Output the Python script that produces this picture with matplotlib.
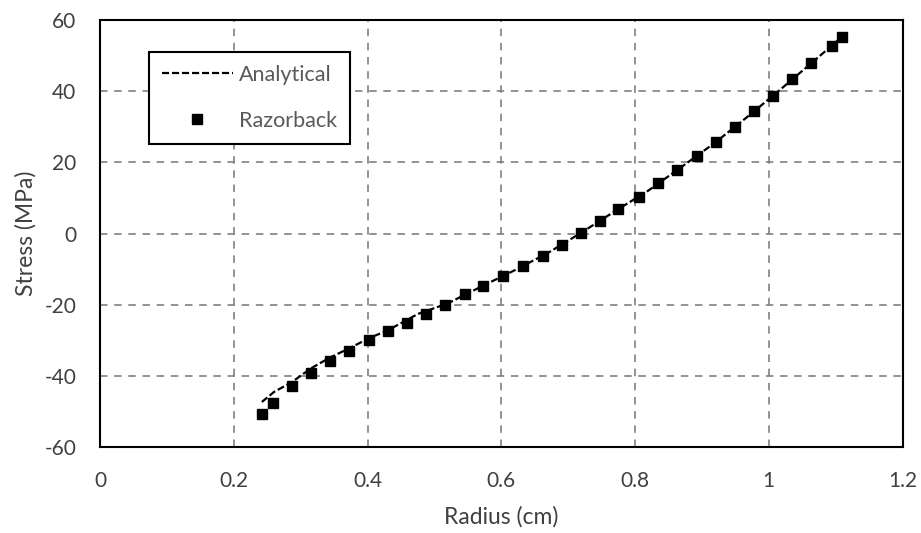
import numpy as np
import matplotlib.pyplot as plt

# Razorback results
radius_pts = [0.242, 0.258, 0.287, 0.315, 0.344, 0.373, 0.402, 0.430, 0.459, 0.488,
              0.516, 0.545, 0.573, 0.602, 0.632, 0.662, 0.691, 0.719, 0.747, 0.775,
              0.806, 0.835, 0.863, 0.892, 0.921, 0.949, 0.978, 1.006, 1.035, 1.063,
              1.095, 1.109]
stress_pts = [-50.7, -47.7, -42.9, -39.2, -35.9, -32.9, -30.0, -27.5, -25.0, -22.5,
              -20.0, -17.1, -14.6, -12.0, -9.2, -6.2, -3.1, 0.2, 3.5, 6.9,
              10.2, 14.2, 17.9, 21.7, 25.7, 30.0, 34.3, 38.6, 43.4, 47.9,
              52.6, 55.2]

# analytical curve
radius_ana = [0.242, 0.26, 0.287, 0.315, 0.344, 0.373, 0.402, 0.43, 0.475, 0.52,
              0.57, 0.62, 0.67, 0.72, 0.77, 0.82, 0.87, 0.92, 0.97, 1.02,
              1.07, 1.109]
stress_ana = [-47.3, -44.5, -41.7, -37.9, -34.8, -32.2, -29.4, -27.2, -22.6, -19.6,
              -14.9, -10.3, -5.4, 0.3, 6.3, 12.1, 18.8, 25.6, 33.1, 40.9,
              48.9, 55.2]

xticks = [0, 0.2, 0.4, 0.6, 0.8, 1, 1.2]
xticklabels = ['0', '0.2', '0.4', '0.6', '0.8', '1', '1.2']
yticks = [-60, -40, -20, 0, 20, 40, 60]

plt.rcParams['font.family'] = ['Lato', 'DejaVu Sans']
plt.rcParams['axes.unicode_minus'] = False
text_col = '#595959'

fig = plt.figure(figsize=(9.21, 5.33), dpi=100)
ax = fig.add_axes([0.1086, 0.161, 0.8714, 0.8015])

ax.plot(radius_ana, stress_ana, '--', color='black', lw=1.6, dashes=(3.2, 1.3),
        label='Analytical', zorder=3)
ax.plot(radius_pts, stress_pts, 's', color='black', ms=6.5, label='Razorback', zorder=4)

ax.set_xlim(0, 1.2)
ax.set_ylim(-60, 60)
ax.set_xticks(xticks)
ax.set_xticklabels(xticklabels)
ax.set_yticks(yticks)
ax.grid(True, color='#808080', linestyle=(0, (4.5, 4)), lw=1.2)
ax.tick_params(length=0, labelsize=15, labelcolor='#404040')
ax.tick_params(axis='x', pad=17)
ax.tick_params(axis='y', pad=17)
for s in ax.spines.values():
    s.set_linewidth(1.5)
    s.set_color('black')

ax.set_xlabel('Radius (cm)', fontsize=16.5, color='#404040', labelpad=11)
ax.set_ylabel('Stress (MPa)', fontsize=16.5, color='#404040', labelpad=6)

leg = ax.legend(loc='upper left', bbox_to_anchor=(0.061, 0.925), fontsize=15.5,
                frameon=True, fancybox=False, edgecolor='black', framealpha=1,
                handlelength=3.3, borderpad=0.6, labelspacing=1.2,
                handletextpad=0.3, borderaxespad=0)
leg.get_frame().set_linewidth(1.5)
for t in leg.get_texts():
    t.set_color(text_col)

fig.savefig('out.png', dpi=100)
